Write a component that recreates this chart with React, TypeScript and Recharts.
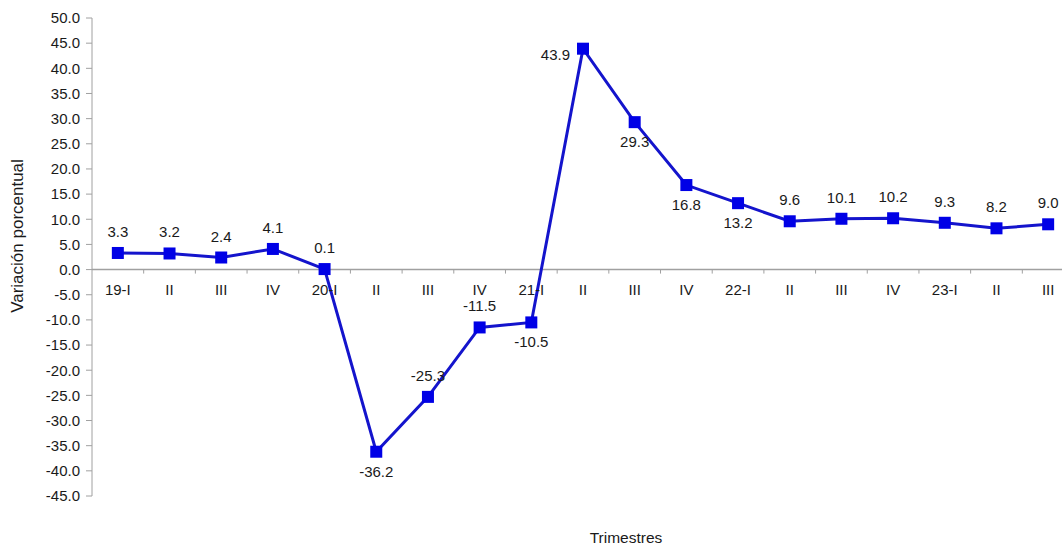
import React from "react";
import { LineChart, Line, XAxis, YAxis, ReferenceLine, LabelList } from "recharts";

const QUARTERS = ["19-I", "II", "III", "IV", "20-I", "II", "III", "IV", "21-I", "II", "III", "IV", "22-I", "II", "III", "IV", "23-I", "II", "III"];
const VALUES = [3.3, 3.2, 2.4, 4.1, 0.1, -36.2, -25.3, -11.5, -10.5, 43.9, 29.3, 16.8, 13.2, 9.6, 10.1, 10.2, 9.3, 8.2, 9.0];
const LABEL_POS = ["top", "top", "top", "top", "top", "bottom", "top", "top", "bottom", "left", "bottom", "bottom", "bottom", "top", "top", "top", "top", "top", "top"];
const Y_TICKS = [50, 45, 40, 35, 30, 25, 20, 15, 10, 5, 0, -5, -10, -15, -20, -25, -30, -35, -40, -45];

const data = QUARTERS.map((q, i) => ({ id: i, q, v: VALUES[i], zero: 0 }));

const CHART_W = 1080;
const CHART_H = 546;
const MARGIN = { top: 18, right: 6, bottom: 50, left: 12 };
const Y_W = 80;
const PLOT_W = CHART_W - MARGIN.left - MARGIN.right - Y_W;
const BAND = PLOT_W / QUARTERS.length;

const FONT = "'Liberation Sans', Arial, sans-serif";
const AXIS = "#a0a0a0";
const TEXT = "#1a1a1a";
const FS = 15;

const SquareDot = (p: any) => {
  const { cx, cy, index } = p;
  if (cx == null || cy == null) return <g key={`d${index}`} />;
  return <rect key={`d${index}`} x={cx - 6} y={cy - 6} width={12} height={12} fill="#0000e6" />;
};

const CatTick = (p: any) => {
  const { cx, cy, index, payload } = p;
  if (cx == null || cy == null) return <g key={`t${index}`} />;
  return (
    <g key={`t${index}`}>
      {index > 0 && <line x1={cx - BAND / 2} x2={cx - BAND / 2} y1={cy} y2={cy + 4} stroke={AXIS} strokeWidth={1} />}
      <text x={cx} y={cy + 25} textAnchor="middle" fontSize={FS} fontFamily={FONT} fill={TEXT}>
        {payload.q}
      </text>
    </g>
  );
};

const ValueLabel = (p: any) => {
  const { x, y, value, index } = p;
  const pos = LABEL_POS[index];
  let tx = x;
  let ty = y - 16;
  let anchor: "middle" | "end" = "middle";
  if (pos === "bottom") ty = y + 25;
  if (pos === "left") {
    tx = x - 13;
    ty = y + 11;
    anchor = "end";
  }
  return (
    <text x={tx} y={ty} textAnchor={anchor} fontSize={FS} fontFamily={FONT} fill={TEXT}>
      {Number(value).toFixed(1)}
    </text>
  );
};

export default function App() {
  return (
    <div style={{ position: "absolute", left: 0, top: 0, width: 1062, height: 546, overflow: "hidden", background: "#fff" }}>
      <LineChart width={CHART_W} height={CHART_H} data={data} margin={MARGIN}>
        <XAxis dataKey="q" hide padding={{ left: BAND / 2, right: BAND / 2 }} />
        <YAxis
          domain={[-45, 50]}
          ticks={Y_TICKS}
          interval={0}
          width={Y_W}
          tickFormatter={(v: number) => v.toFixed(1)}
          tick={{ fontSize: FS, fontFamily: FONT, fill: TEXT }}
          axisLine={{ stroke: AXIS }}
          tickLine={{ stroke: AXIS }}
          tickSize={6}
          tickMargin={6}
          allowDataOverflow
        />
        <ReferenceLine y={0} stroke={AXIS} strokeWidth={1.5} />
        <Line dataKey="zero" stroke="none" dot={CatTick} activeDot={false} isAnimationActive={false} />
        <Line dataKey="v" stroke="#1414cc" strokeWidth={3} dot={SquareDot} activeDot={false} isAnimationActive={false}>
          <LabelList dataKey="v" content={ValueLabel} />
        </Line>
      </LineChart>
      <div style={{ position: "absolute", left: 626, top: 529, transform: "translateX(-50%)", fontFamily: FONT, fontSize: 15.5, color: TEXT, whiteSpace: "nowrap" }}>
        Trimestres
      </div>
      <div style={{ position: "absolute", left: 18, top: 236, transform: "translate(-50%, -50%) rotate(-90deg)", fontFamily: FONT, fontSize: 17, color: TEXT, whiteSpace: "nowrap" }}>
        Variación porcentual
      </div>
    </div>
  );
}
